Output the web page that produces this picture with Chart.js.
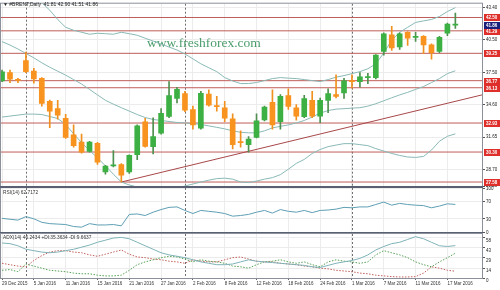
<!DOCTYPE html>
<html>
<head>
<meta charset="utf-8">
<script src="https://cdn.jsdelivr.net/npm/chart.js@4.4.0/dist/chart.umd.min.js"></script>
<style>
  html, body { margin: 0; padding: 0; background: #fff; }
  #wrap { position: relative; width: 500px; height: 290px; overflow: hidden; background: #fff; }
  #wrap canvas { position: absolute; left: 0; }
</style>
</head>
<body>
<div id="wrap">
  <canvas id="mainChart" width="500" height="190" style="top:0"></canvas>
  <canvas id="rsiChart" width="500" height="60" style="top:180px"></canvas>
  <canvas id="adxChart" width="500" height="64" style="top:226px"></canvas>
</div>
<script>
const dates = ["29 Dec 2015","30 Dec 2015","31 Dec 2015","4 Jan 2016","5 Jan 2016","6 Jan 2016","7 Jan 2016","8 Jan 2016",
  "11 Jan 2016","12 Jan 2016","13 Jan 2016","14 Jan 2016","15 Jan 2016","18 Jan 2016","19 Jan 2016","20 Jan 2016",
  "21 Jan 2016","22 Jan 2016","25 Jan 2016","26 Jan 2016","27 Jan 2016","28 Jan 2016","29 Jan 2016","1 Feb 2016",
  "2 Feb 2016","3 Feb 2016","4 Feb 2016","5 Feb 2016","8 Feb 2016","9 Feb 2016","10 Feb 2016","11 Feb 2016",
  "12 Feb 2016","15 Feb 2016","16 Feb 2016","17 Feb 2016","18 Feb 2016","19 Feb 2016","22 Feb 2016","23 Feb 2016",
  "24 Feb 2016","25 Feb 2016","26 Feb 2016","29 Feb 2016","1 Mar 2016","2 Mar 2016","3 Mar 2016","4 Mar 2016",
  "7 Mar 2016","8 Mar 2016","9 Mar 2016","10 Mar 2016","11 Mar 2016","14 Mar 2016","15 Mar 2016","16 Mar 2016",
  "17 Mar 2016","18 Mar 2016"];

const openP = [36.75,37.50,36.83,38.60,37.65,36.99,34.90,34.25,33.36,31.87,31.21,30.35,31.09,28.50,29.05,29.16,
  28.50,30.05,33.03,30.79,32.02,33.54,35.15,35.59,34.16,32.46,35.56,34.50,34.31,33.32,31.22,30.97,
  31.62,33.21,34.81,33.05,35.41,34.31,33.50,34.99,33.56,34.97,35.50,35.65,36.72,36.69,37.05,37.05,
  39.43,40.92,39.82,41.16,40.70,40.78,40.02,39.43,41.07,41.81];
const highP = [37.74,37.74,36.99,39.37,37.88,37.05,35.02,34.99,33.72,32.76,31.93,31.27,31.18,29.10,30.44,29.25,
  30.05,32.76,33.36,33.41,34.25,36.69,36.16,35.80,34.46,35.80,35.95,35.35,34.90,33.77,32.22,31.69,
  33.77,34.46,35.95,35.50,36.04,34.61,35.44,35.80,35.20,36.04,37.29,36.99,37.29,37.50,37.43,39.13,
  41.10,41.70,41.10,41.22,41.16,40.86,40.11,40.80,41.99,42.90];
const lowP = [36.69,36.60,36.60,37.50,36.54,34.46,32.52,33.27,31.53,30.73,30.19,30.28,29.18,28.29,28.94,27.58,
  28.35,29.60,30.73,30.14,31.93,33.41,34.75,33.95,32.38,32.38,34.46,34.01,33.05,30.59,30.73,30.28,
  31.57,33.12,32.38,32.38,34.16,33.18,33.41,33.41,32.96,33.86,35.20,35.15,36.09,36.18,36.49,36.93,
  39.08,39.52,39.61,39.97,40.33,39.22,38.72,39.31,40.86,41.51];
const closeP = [37.58,36.90,36.80,37.58,36.93,34.70,34.01,33.65,31.62,30.88,30.28,31.21,29.39,29.03,29.10,28.20,
  29.99,32.67,30.82,31.69,33.80,35.41,35.98,34.10,32.76,35.62,34.55,34.42,33.36,30.97,31.15,31.48,
  33.12,34.37,32.76,35.35,34.43,33.56,35.15,33.56,34.99,35.59,35.35,36.75,36.69,37.11,37.07,39.08,
  41.01,39.73,41.01,40.62,40.73,40.02,39.31,40.71,41.90,41.86];

const bbUpper = [46.0,45.6,45.2,44.8,44.3,43.84,43.16,42.32,41.61,41.34,41.16,40.98,41.07,41.03,40.98,41.16,
  41.03,40.89,40.62,40.36,40.09,39.82,39.55,39.19,38.75,38.30,37.94,37.59,37.05,36.74,36.51,36.51,
  36.60,36.78,36.96,37.05,37.00,36.96,36.87,36.78,36.69,36.87,37.09,37.23,37.41,37.59,37.85,38.30,
  39.28,40.44,41.16,41.61,42.05,42.19,42.32,42.59,43.04,43.39];
const bbMiddle = [40.31,40.00,39.64,39.24,38.84,38.39,37.99,37.63,37.27,36.87,36.47,35.98,35.48,34.99,34.64,34.32,
  34.01,33.70,33.43,33.25,33.16,33.07,32.98,32.94,32.89,32.80,32.67,32.54,32.40,32.22,32.09,32.04,
  32.04,32.22,32.49,32.63,32.76,32.94,33.16,33.47,33.83,34.06,34.19,34.23,34.28,34.32,34.46,34.68,
  34.95,35.22,35.48,35.71,35.98,36.24,36.60,36.96,37.41,37.67];
const bbLower = [33.47,33.56,33.65,33.74,33.74,33.70,33.52,33.34,32.80,31.95,31.15,30.44,29.77,29.05,28.29,27.58,
  27.31,27.13,26.95,26.86,26.86,26.95,27.04,27.22,27.40,27.58,27.75,27.89,27.93,27.84,27.58,27.53,
  27.67,27.84,27.98,28.25,28.74,29.27,29.63,30.17,30.53,30.79,30.93,31.06,31.06,30.97,30.88,30.61,
  30.39,30.17,29.99,29.85,29.81,29.90,30.48,31.28,31.73,31.95];

const rsi = [31,29,27,35,30,22,19,18,17,12.5,11,19,16,16,17,14,
  40,41,37.5,45,51,56,57,49,42,49,47,45,42,36,37.5,40,
  45,49,43,51,47,45,49,44,49,50,52,56,55,57,57,62.5,
  68,61,65,62.5,61,60,55,59,64,62.7];

const adx = [50,49,46,41,39,37,36,37,39,41,44,47,51,54,57,58,
  56,51,46,41,36,33,31,29,26,23,21,19,19,20,23,26,
  24,23,22,21,20,19,18,16,15,18,21,23,25,28,33,40,
  45,49,51,55,59,56,51,46,45,46.2];
const plusDI = [11,12,9,20,17,14,11,10,9,7,6,6,4,3,3,4,
  11,19,23,26,29,31,30,27,23,26,24,23,21,17,16,14,
  19,23,24,26,23,21,23,19,16,23,26,24,23,21,23,33,
  39,36,33,29,23,19,16,23,29,35.4];
const minusDI = [21,19,17,16,25,32,37,39,39,37,36,33,31,34,37,40,
  34,30,29,27,26,24,23,21,26,24,23,23,26,29,30,27,
  24,23,23,21,20,19,17,16,14,13,11,10,9,7,6,4,
  3,2,1.5,1.5,2,7,16,14,11,9.7];

const levels = [42.50, 41.29, 39.25, 36.77, 36.13, 32.93, 30.30, 27.58];
const priceTicks = [43.40, 40.50, 37.50, 34.60, 31.65, 28.70, 27.20];
const rsiTicks = [100, 70, 30, 0];
const adxTicks = [58, 43, 29, 14, 0];
const trendBars = [15, 60.35];
const trendPrices = [27.58, 35.48];
const separatorBars = [3, 23, 44];
const labelBars = [0, 4, 8, 12, 16, 20, 24, 28, 32, 36, 40, 44, 48, 52, 56];
const lastPrice = 41.86;

const X_MIN = -0.13, X_MAX = 60.35;
const BULL = "#3cb043", BEAR = "#f7931e";
const AX_FONT = { family: "Liberation Sans", size: 4.5 };
const idx = dates.map((d, i) => i);
const up = idx.map(i => closeP[i] >= openP[i]);

function xScale(showLabels) {
  return {
    type: "linear", min: X_MIN, max: X_MAX, offset: false,
    afterBuildTicks: (s) => { s.ticks = labelBars.map(v => ({ value: v })); },
    afterFit: (s) => { s.height = showLabels ? 12 : 0; },
    grid: { color: "#ececec", drawTicks: showLabels, tickLength: 2, tickColor: "#666", offset: false },
    border: { display: false },
    ticks: { display: showLabels, align: "start", autoSkip: false, maxRotation: 0, padding: 1,
      font: AX_FONT, color: "#333", callback: (v) => dates[v] }
  };
}

function yScale(min, max, tickList, fmt, offset) {
  return {
    position: "right", min: min, max: max,
    afterFit: (s) => { s.width = 18; },
    afterBuildTicks: (s) => { s.ticks = tickList.map(v => ({ value: v })); },
    grid: { color: "#ececec", drawTicks: true, tickLength: 3, tickColor: "#555" },
    border: { display: false },
    ticks: { padding: 1, labelOffset: offset, font: AX_FONT, color: "#222", callback: fmt }
  };
}

const separators = {
  id: "separators",
  beforeDatasetsDraw(chart) {
    const { ctx, chartArea: a, scales } = chart;
    ctx.save();
    ctx.strokeStyle = "#707070";
    ctx.lineWidth = 1;
    ctx.setLineDash([2, 2]);
    separatorBars.forEach(b => {
      const x = Math.round(scales.x.getPixelForValue(b)) + 0.5;
      ctx.beginPath(); ctx.moveTo(x, a.top); ctx.lineTo(x, a.bottom); ctx.stroke();
    });
    ctx.restore();
  },
  afterDraw(chart) {
    const { ctx, chartArea: a } = chart;
    ctx.save();
    ctx.strokeStyle = "#8b909a";
    ctx.lineWidth = 1;
    ctx.strokeRect(a.left - 0.5, a.top - 0.5, a.right - a.left + 1, a.bottom - a.top + 1);
    ctx.restore();
  }
};

const common = {
  responsive: false, animation: false, events: [],
  plugins: { legend: { display: false }, tooltip: { enabled: false } }
};

// main price pane
const mainDecor = {
  id: "mainDecor",
  beforeDatasetsDraw(chart) {
    const { ctx } = chart;
    ctx.save();
    ctx.font = '13.5px "Liberation Serif"';
    ctx.fillStyle = "#4b9d6c";
    ctx.fillText("www.freshforex.com", 147, 47);
    ctx.restore();
  },
  afterDraw(chart) {
    const { ctx, scales } = chart;
    ctx.save();
    ctx.font = '5px "Liberation Sans"';
    ctx.fillStyle = "#222";
    ctx.textBaseline = "middle";
    ctx.fillText("\u25BC #BRENT,Daily  41.81 42.90 41.51 41.86", 3, 5);
    ctx.font = 'bold 4.5px "Liberation Sans"';
    levels.forEach(lv => {
      const y = Math.round(scales.y.getPixelForValue(lv));
      ctx.fillStyle = "#de2f2b";
      ctx.fillRect(484, y - 3, 16, 7);
      ctx.fillStyle = "#fff";
      ctx.fillText(lv.toFixed(2), 486, y + 0.5);
    });
    const yl = Math.round(scales.y.getPixelForValue(lastPrice));
    ctx.fillStyle = "#1b1f7c";
    ctx.fillRect(484, yl - 3, 16, 7);
    ctx.fillStyle = "#fff";
    ctx.fillText(lastPrice.toFixed(2), 486, yl + 0.5);
    ctx.restore();
  }
};

new Chart(document.getElementById("mainChart"), {
  type: "bar",
  data: {
    datasets: [
      {
        data: idx.map(i => ({ x: i, y: [openP[i], closeP[i]] })),
        backgroundColor: idx.map(i => up[i] ? BULL : BEAR),
        barThickness: 5, minBarLength: 1, grouped: false, borderWidth: 0
      },
      {
        data: idx.map(i => ({ x: i, y: [lowP[i], highP[i]] })),
        backgroundColor: idx.map(i => up[i] ? "#4f8f4f" : "#f0901e"),
        barThickness: 1, grouped: false, borderWidth: 0
      },
      { type: "line", data: idx.map(i => ({ x: i, y: bbUpper[i] })), borderColor: "#8ab9b6", borderWidth: 1, pointRadius: 0 },
      { type: "line", data: idx.map(i => ({ x: i, y: bbMiddle[i] })), borderColor: "#8ab9b6", borderWidth: 1, pointRadius: 0 },
      { type: "line", data: idx.map(i => ({ x: i, y: bbLower[i] })), borderColor: "#8ab9b6", borderWidth: 1, pointRadius: 0 },
      {
        type: "line",
        data: trendBars.map((b, k) => ({ x: b, y: trendPrices[k] })),
        borderColor: "#a8484a", borderWidth: 1, pointRadius: 0
      },
      ...levels.map(lv => ({
        type: "line",
        data: [{ x: X_MIN, y: lv }, { x: X_MAX, y: lv }],
        borderColor: "#bf5d59", borderWidth: 1, pointRadius: 0
      }))
    ]
  },
  options: {
    ...common,
    layout: { padding: { top: 1, bottom: 4, left: 1, right: 0 } },
    scales: {
      x: xScale(false),
      y: yScale(27.22, 43.75, priceTicks, v => v.toFixed(2), 0)
    }
  },
  plugins: [separators, mainDecor]
});

// RSI pane
const rsiDecor = {
  id: "rsiDecor",
  afterDraw(chart) {
    const { ctx, chartArea: a } = chart;
    ctx.save();
    ctx.fillStyle = "#596073";
    ctx.fillRect(0, a.top - 2, a.right + 1, 2);
    ctx.fillRect(0, a.bottom, a.right + 1, 2);
    ctx.font = '4.8px "Liberation Sans"';
    ctx.fillStyle = "#333";
    ctx.textBaseline = "middle";
    ctx.fillText("RSI(14) 62.7172", 3, a.top + 5);
    ctx.restore();
  }
};

new Chart(document.getElementById("rsiChart"), {
  type: "line",
  data: {
    datasets: [
      { data: idx.map(i => ({ x: i, y: rsi[i] })), borderColor: "#5e9fb4", borderWidth: 1, pointRadius: 0 }
    ]
  },
  options: {
    ...common,
    layout: { padding: { top: 8, bottom: 8, left: 1, right: 0 } },
    scales: {
      x: xScale(false),
      y: yScale(0, 100, rsiTicks, v => String(v), 1)
    }
  },
  plugins: [separators, rsiDecor]
});

// ADX pane
const adxDecor = {
  id: "adxDecor",
  afterDraw(chart) {
    const { ctx, chartArea: a } = chart;
    ctx.save();
    ctx.font = '4.8px "Liberation Sans"';
    ctx.fillStyle = "#333";
    ctx.textBaseline = "middle";
    ctx.fillText("ADX(14) 46.2434 +DI:35.3634 -DI:9.6637", 3, a.top + 4);
    ctx.restore();
  }
};

new Chart(document.getElementById("adxChart"), {
  type: "line",
  data: {
    datasets: [
      { data: idx.map(i => ({ x: i, y: adx[i] })), borderColor: "#7fb3b8", borderWidth: 1, pointRadius: 0 },
      { data: idx.map(i => ({ x: i, y: plusDI[i] })), borderColor: "#55a055", borderWidth: 1, borderDash: [1.5, 1.5], pointRadius: 0 },
      { data: idx.map(i => ({ x: i, y: minusDI[i] })), borderColor: "#c1605a", borderWidth: 1, borderDash: [1.5, 1.5], pointRadius: 0 }
    ]
  },
  options: {
    ...common,
    layout: { padding: { top: 8, bottom: 0, left: 1, right: 0 } },
    scales: {
      x: xScale(true),
      y: yScale(0, 62.8, adxTicks, v => String(v), 3)
    }
  },
  plugins: [separators, adxDecor]
});
</script>
</body>
</html>
